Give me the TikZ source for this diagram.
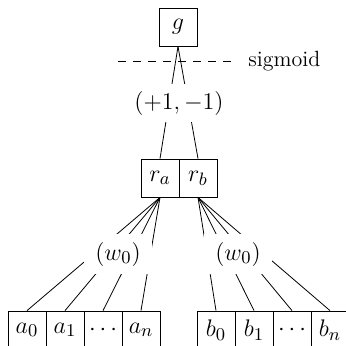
\documentclass[tikz,border=0pt]{standalone}
\usepackage{tikz}
\usetikzlibrary{positioning}

\tikzset{
  cell/.style={draw, inner sep=0pt, minimum width=19pt, minimum height=19pt, font=\fontsize{12.5}{14}\selectfont},
  weight/.style={fill=white, inner sep=0pt, minimum width=34pt, minimum height=20pt, font=\fontsize{12.5}{14}\selectfont},
  split/.style={dash pattern=on 3.75pt off 3.75pt}
}

\begin{document}
\begin{tikzpicture}[x=0.5pt,y=0.5pt,every node/.style={font=\fontsize{11}{13}\selectfont}]
			\clip (0,0) rectangle (346,345);
			
			\node[cell] (g) at (178,318) {$g$};
			
			\node[cell] (ra) at (160,167) {$r_a$};
			\node[cell] (rb) at (198,167) {$r_b$};
			
			\node[cell] (a0) at (27,15) {$a_0$};
			\node[cell] (a1) at (65,15) {$a_1$};
			\node[cell] (a2) at (103,15) {$\cdots$};
			\node[cell] (an) at (141,15) {$a_n$};
			
			\node[cell] (b0) at (216,15) {$b_0$};
			\node[cell] (b1) at (254,15) {$b_1$};
			\node[cell] (b2) at (292,15) {$\cdots$};
			\node[cell] (bn) at (330,15) {$b_n$};
			
			\draw (g.south) -- (ra.north);
			\draw (g.south) -- (rb.north);
			\foreach \t in {a0,a1,a2,an} \draw (ra.south) -- (\t.north);
			\foreach \t in {b0,b1,b2,bn} \draw (rb.south) -- (\t.north);
			
			\coordinate (sigL) at (118,284);
			\node[anchor=west, inner xsep=5.5pt] (sig) at (237,284) {sigmoid};
			\draw[split] (sigL) -- (sig.west);
			
			\node[fill=white, inner xsep=2pt, inner ysep=0pt, minimum height=19pt, font=\fontsize{11.5}{13}\selectfont] (pm) at (179,242) {$(+1,-1)$};
			\node[weight] (wa) at (118,91) {$(w_0)$};
			\node[weight] (wb) at (238,91) {$(w_0)$};
		\end{tikzpicture}
\end{document}
